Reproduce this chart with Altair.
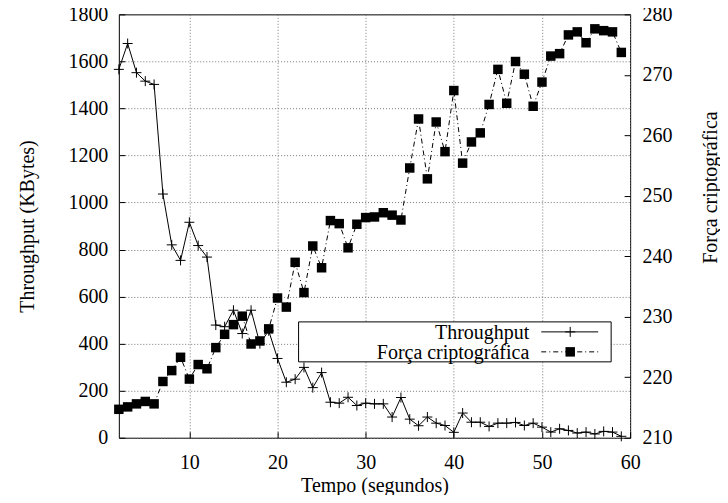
import altair as alt
import pandas as pd

FONT = "Liberation Serif"

tempo = [2, 3, 4, 5, 6, 7, 8, 9, 10, 11, 12, 13, 14, 15, 16, 17, 18, 19, 20, 21,
         22, 23, 24, 25, 26, 27, 28, 29, 30, 31, 32, 33, 34, 35, 36, 37, 38, 39, 40,
         41, 42, 43, 44, 45, 46, 47, 48, 49, 50, 51, 52, 53, 54, 55, 56, 57, 58, 59]

throughput = [1566, 1676, 1552, 1516, 1502, 1036, 820, 754, 916, 817, 768, 479, 472,
              542, 443, 542, 400, 455, 337, 236, 249, 299, 213, 277, 151, 147, 172,
              137, 147, 144, 144, 88, 171, 79, 51, 88, 62, 52, 23, 105, 66, 66, 48,
              62, 62, 65, 52, 62, 45, 24, 38, 31, 20, 24, 16, 27, 24, 6]

forca = [214.7, 215.1, 215.6, 216.0, 215.6, 219.3, 221.1, 223.3, 219.7, 222.1, 221.4,
         224.9, 227.1, 228.7, 230.1, 225.5, 226.0, 228.0, 233.1, 231.6, 239.0, 234.0,
         241.7, 238.1, 245.9, 245.4, 241.4, 245.3, 246.4, 246.5, 247.2, 246.8, 246.0,
         254.6, 262.7, 252.8, 262.2, 257.3, 267.4, 255.4, 258.9, 260.4, 265.1, 270.9,
         265.3, 272.2, 270.1, 264.8, 268.8, 273.1, 273.5, 276.6, 277.1, 275.3, 277.6,
         277.3, 277.1, 273.7]

series_names = ["Throughput", "Força criptográfica"]
x_ticks = [10, 20, 30, 40, 50, 60]
left_ticks = [0, 200, 400, 600, 800, 1000, 1200, 1400, 1600, 1800]
right_ticks = [210, 220, 230, 240, 250, 260, 270, 280]

df = pd.DataFrame({"Tempo": tempo, "Throughput": throughput, "Forca": forca})
dummy = pd.DataFrame({"k": [0]})

PLUS = "M-1,0L1,0M0,-1L0,1"
W, H = 512, 424
DASHDOT = [5, 3, 1, 3]

x_scale = alt.Scale(domain=[2, 60], nice=False, zero=False)
x_axis = alt.Axis(values=x_ticks, title="Tempo (segundos)", format="d", offset=-6, tickSize=6,
                  labelPadding=15, domain=False, grid=True, labelFlush=False,
                  labelFont=FONT, labelFontSize=20, titleFont=FONT, titleFontSize=20,
                  titleX=W / 2, titleY=54, titleAlign="center", titleBaseline="middle")

thr = alt.Chart(df).mark_line(
    color="black", strokeWidth=1,
    point=alt.OverlayMarkDef(shape=PLUS, filled=False, size=100, stroke="black", strokeWidth=1),
).encode(
    x=alt.X("Tempo:Q", scale=x_scale, axis=x_axis),
    y=alt.Y("Throughput:Q", scale=alt.Scale(domain=[0, 1800], nice=False),
            axis=alt.Axis(values=left_ticks, title="Throughput (KBytes)", orient="left",
                          format="d", offset=-6, tickSize=6, labelPadding=11, domain=False,
                          grid=True, labelFont=FONT, labelFontSize=20,
                          titleFont=FONT, titleFontSize=20,
                          titleX=-97, titleY=H / 2, titleAngle=270,
                          titleAlign="center", titleBaseline="middle")),
)

frc = alt.Chart(df).mark_line(
    color="black", strokeWidth=1, strokeDash=DASHDOT,
    point=alt.OverlayMarkDef(shape="square", filled=True, size=90, color="black"),
).encode(
    x=alt.X("Tempo:Q", scale=x_scale, axis=x_axis),
    y=alt.Y("Forca:Q", scale=alt.Scale(domain=[210, 280], nice=False, zero=False),
            axis=alt.Axis(values=right_ticks, title="Força criptográfica", orient="right",
                          format="d", offset=-6, tickSize=6, labelPadding=12, domain=False,
                          grid=False, labelFont=FONT, labelFontSize=20,
                          titleFont=FONT, titleFontSize=20,
                          titleX=86, titleY=173, titleAngle=270,
                          titleAlign="center", titleBaseline="middle")),
)

# legend (gnuplot style: label right-aligned, sample to the right)
box = alt.Chart(dummy).mark_rect(fill="white", stroke="black", strokeWidth=1).encode(
    x=alt.value(180), x2=alt.value(493), y=alt.value(308), y2=alt.value(348))
t1 = alt.Chart(dummy).mark_text(align="right", baseline="middle", font=FONT, fontSize=20,
                                color="black").encode(
    x=alt.value(411), y=alt.value(319), text=alt.value(series_names[0]))
t2 = alt.Chart(dummy).mark_text(align="right", baseline="middle", font=FONT, fontSize=20,
                                color="black").encode(
    x=alt.value(411), y=alt.value(339), text=alt.value(series_names[1]))
r1 = alt.Chart(dummy).mark_rule(color="black", strokeWidth=1).encode(
    x=alt.value(423), x2=alt.value(480), y=alt.value(318))
r2 = alt.Chart(dummy).mark_rule(color="black", strokeWidth=1, strokeDash=DASHDOT).encode(
    x=alt.value(423), x2=alt.value(480), y=alt.value(338))
p1 = alt.Chart(dummy).mark_point(shape=PLUS, filled=False, size=100, color="black",
                                 strokeWidth=1, opacity=1).encode(
    x=alt.value(452), y=alt.value(318))
p2 = alt.Chart(dummy).mark_point(shape="square", filled=True, size=90, color="black",
                                 opacity=1).encode(
    x=alt.value(452), y=alt.value(338))

chart = alt.layer(thr, frc, box, t1, t2, r1, r2, p1, p2).resolve_scale(
    y="independent"
).properties(
    width=W, height=H,
    autosize=alt.AutoSizeParams(type="none"),
    padding={"left": 111, "top": 6, "right": 90, "bottom": 57},
).configure_axis(
    labelFont=FONT, labelFontSize=20, labelColor="black",
    titleFont=FONT, titleFontSize=20, titleFontWeight="normal", titleColor="black",
    tickColor="black", tickWidth=1,
    gridColor="#777777", gridDash=[1, 2], gridWidth=1, gridOpacity=1,
).configure_view(stroke="black", strokeWidth=1)

chart.save("out.html", embed_options={"renderer": "svg", "actions": False})
